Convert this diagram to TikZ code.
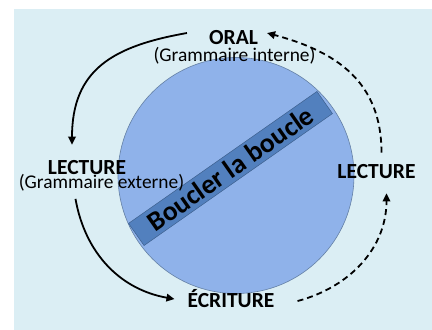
\documentclass[tikz,border=0pt]{standalone}
\usepackage{fontspec}
\setmainfont{Carlito}
\usetikzlibrary{arrows.meta}
\definecolor{fond}{RGB}{219,238,244}
\definecolor{disque}{RGB}{143,178,234}
\definecolor{bande}{RGB}{82,128,190}
\tikzstyle{titre} = [font=\fontsize{21.5}{23}\selectfont\bfseries, inner sep=1pt, anchor=base]
\tikzstyle{sous} = [font=\fontsize{19.4}{21}\selectfont, inner sep=1pt, anchor=base]
\tikzstyle{fleche} = [line width=1.8pt, -{Triangle[length=8pt,width=7.5pt]}]
\tikzstyle{flechetiret} = [fleche, dash pattern=on 6pt off 4pt]

\begin{document}
\begin{tikzpicture}[x=1pt,y=1pt]
\useasboundingbox (0,0) rectangle (432,330);
\fill[fond] (14,0) rectangle (432,321);

% Disque et bande
\node (disque) [circle, minimum size=236pt, fill=disque, draw=bande!60!gray, line width=0.6pt] at (236,154.5) {};
\node (bande) [rectangle, minimum width=230pt, minimum height=27pt, inner sep=0pt, fill=bande, draw=bande!75!black, line width=0.5pt, rotate=35, font=\fontsize{27.5}{29}\selectfont\bfseries] at (230.5,161.5) {Boucler la boucle};

% Textes
\node (oral) [titre] at (233.5,285) {ORAL};
\node (gramint) [sous] at (234.5,268) {(Grammaire interne)};
\node (lecg) [titre] at (87,155) {LECTURE};
\node (gramext) [sous] at (101.5,141) {(Grammaire externe)};
\node (lecd) [titre] at (376.5,151) {LECTURE};
\node (ecrit) [titre] at (231,22) {ÉCRITURE};

% Flèches pleines
\draw [fleche] ([xshift=-21pt,yshift=5pt]oral.west) to[out=190,in=90,looseness=1.2] ([xshift=-15pt,yshift=15pt]lecg.north);
\draw [fleche] ([xshift=-26pt,yshift=-6pt]gramext.south) to[out=280,in=170] ([xshift=-12pt]ecrit.west);

% Flèches en tirets
\draw [flechetiret] ([xshift=22pt,yshift=-2pt]ecrit.east) to[out=15,in=270] ([xshift=10pt,yshift=-13pt]lecd.south);
\draw [flechetiret] ([xshift=5pt,yshift=11pt]lecd.north) to[out=90,in=-15,looseness=1.1] ([xshift=8pt,yshift=5pt]oral.east);

\end{tikzpicture}
\end{document}
